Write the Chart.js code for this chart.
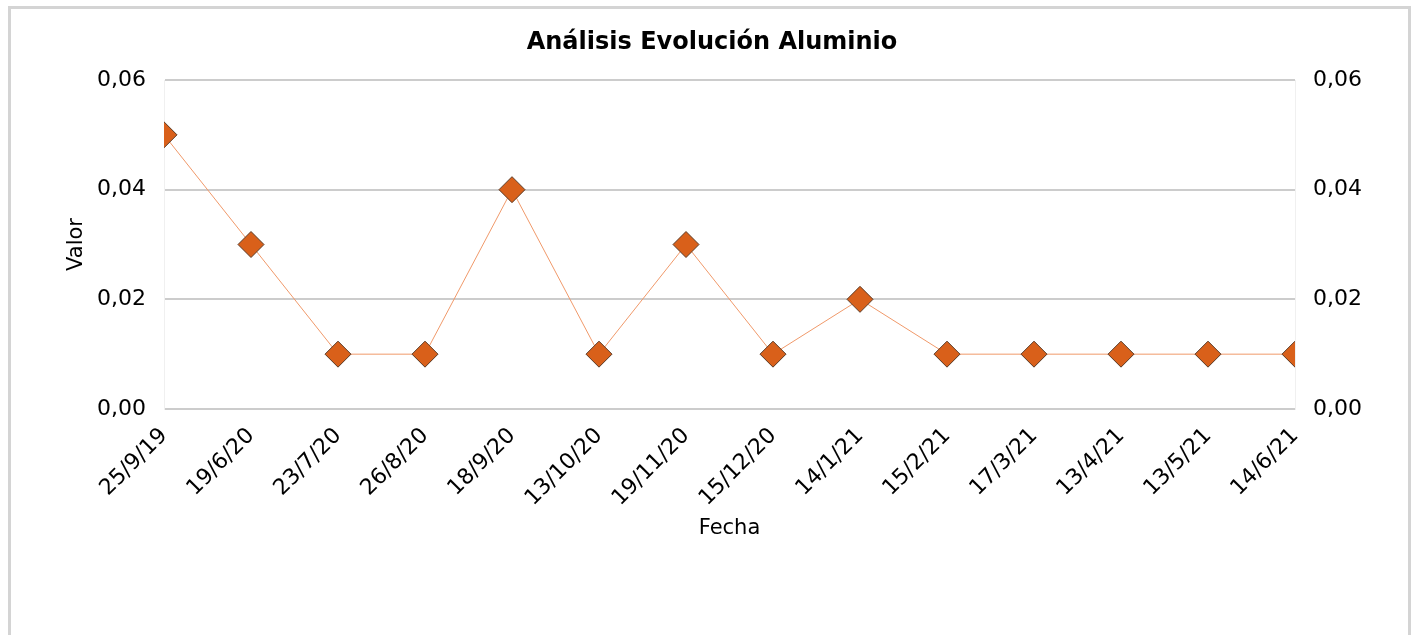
<!DOCTYPE html>
<html>
<head>
<meta charset="utf-8">
<script src="https://cdn.jsdelivr.net/npm/chart.js@4.4.1/dist/chart.umd.min.js"></script>
<style>
  html, body { margin: 0; padding: 0; background: #fff; }
  #frame {
    position: absolute; left: 8px; top: 6px; width: 1403px; height: 700px;
    border: 3px solid #d4d4d4; box-sizing: border-box;
  }
  #wrap { position: absolute; left: 0; top: 0; width: 1424px; height: 635px; }
</style>
</head>
<body>
<div id="frame"></div>
<div id="wrap"><canvas id="chart" width="1424" height="635"></canvas></div>
<script>
const fechas = ["25/9/19", "19/6/20", "23/7/20", "26/8/20", "18/9/20", "13/10/20", "19/11/20",
  "15/12/20", "14/1/21", "15/2/21", "17/3/21", "13/4/21", "13/5/21", "14/6/21"];
const valores = [0.05, 0.03, 0.01, 0.01, 0.04, 0.01, 0.03, 0.01, 0.02, 0.01, 0.01, 0.01, 0.01, 0.01];
const yMin = 0;
const yMax = 0.06;
const yStep = 0.02;

const fontFam = "'DejaVu Sans', Verdana, sans-serif";
const fmt = v => v.toFixed(2).replace(".", ",");

const ctx = document.getElementById("chart").getContext("2d");
new Chart(ctx, {
  type: "line",
  data: {
    labels: fechas,
    datasets: [{
      label: "Aluminio",
      data: valores,
      borderColor: "#F0996A",
      borderWidth: 1,
      pointStyle: "rectRot",
      pointRadius: 13,
      pointHoverRadius: 13,
      pointBackgroundColor: "#D9601A",
      pointBorderColor: "#5a3a26",
      pointBorderWidth: 1,
      tension: 0,
      clip: 0
    }]
  },
  options: {
    responsive: false,
    animation: false,
    layout: { padding: 0 },
    plugins: {
      legend: { display: false },
      tooltip: { enabled: false },
      title: {
        display: true,
        text: "Análisis Evolución Aluminio",
        color: "#000",
        font: { family: fontFam, size: 24, weight: "bold" },
        padding: { top: 28, bottom: 23.2 }
      }
    },
    scales: {
      x: {
        offset: false,
        grid: { display: false },
        border: { display: false },
        ticks: {
          color: "#000",
          font: { family: fontFam, size: 22 },
          minRotation: 45,
          maxRotation: 45,
          padding: 6,
          autoSkip: false
        },
        title: {
          display: true,
          text: "Fecha",
          color: "#000",
          font: { family: fontFam, size: 21 },
          padding: { top: 0, bottom: 94 }
        },
        afterFit: s => { s.height = 226; }
      },
      y: {
        position: "left",
        min: yMin, max: yMax,
        grid: { color: "#cccccc", lineWidth: 2, drawTicks: false },
        border: { display: true, color: "#f0f0f0", width: 1 },
        ticks: {
          stepSize: yStep, color: "#000", padding: 18,
          font: { family: fontFam, size: 22 },
          callback: v => fmt(v)
        },
        title: {
          display: true,
          text: "Valor",
          color: "#000",
          font: { family: fontFam, size: 21 },
          padding: { top: 64, bottom: 0 }
        },
        afterFit: s => { s.width = 164; }
      },
      y2: {
        position: "right",
        min: yMin, max: yMax,
        grid: { display: false, drawTicks: false },
        border: { display: true, color: "#f0f0f0", width: 1 },
        ticks: {
          stepSize: yStep, color: "#000", padding: 18,
          font: { family: fontFam, size: 22 },
          callback: v => fmt(v)
        },
        afterFit: s => { s.width = 129; }
      }
    }
  }
});
</script>
</body>
</html>
